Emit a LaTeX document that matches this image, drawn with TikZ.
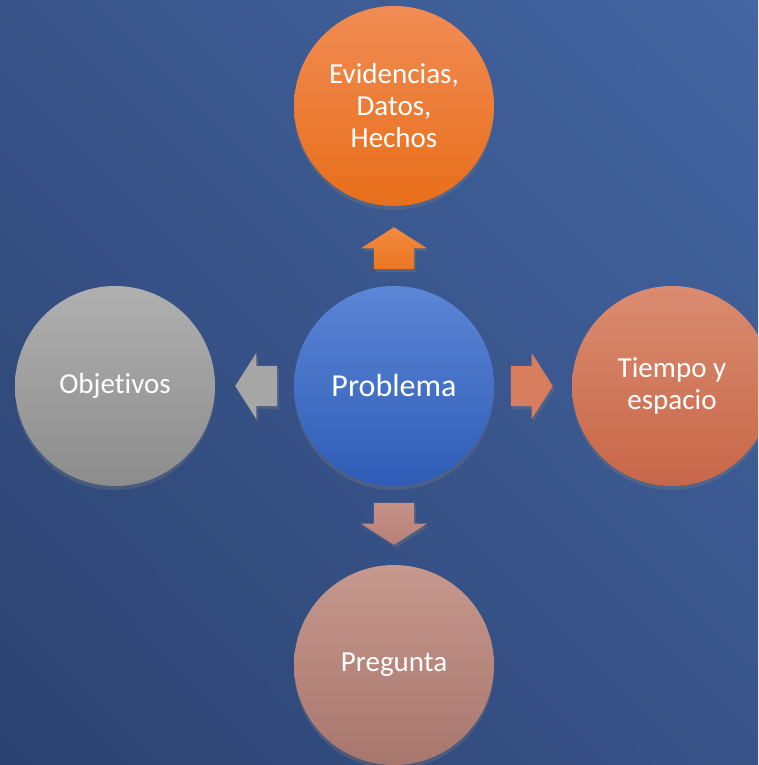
\documentclass[tikz,border=0pt]{standalone}
\usepackage{fontspec}
\setmainfont{Carlito}[Ligatures=NoCommon]
\usepackage{xcolor}
\usepackage{tikz}
\usetikzlibrary{shapes.arrows,shadows,shadings}

\definecolor{bgdark}{HTML}{2C4270}
\definecolor{bglight}{HTML}{4466A3}

\begin{document}
\begin{tikzpicture}[x=1pt, y=-1pt,
        bubble/.style={circle, minimum size=200pt, inner sep=0pt, align=center,
            text=white, font=\fontsize{29}{32}\selectfont,
            drop shadow={opacity=0.3, shadow xshift=0pt, shadow yshift=-4pt}},
        blockarrow/.style={single arrow, minimum height=42pt, inner sep=0pt,
            single arrow head extend=13pt,
            single arrow tip angle=115, anchor=tip,
            drop shadow={opacity=0.3, shadow xshift=2pt, shadow yshift=-3pt}},
        flat/.style={blockarrow, inner ysep=20pt},
        upright/.style={blockarrow, inner xsep=20pt}]
        \useasboundingbox (0, 0) rectangle (758, 765);
        \clip (0, 0) rectangle (758, 765);
        \shade[lower left=bgdark, upper right=bglight, lower right=bgdark!50!bglight,
            upper left=bgdark!50!bglight] (0, 765) rectangle (758, 0);

        \node[bubble, top color={rgb,255:red,92;green,134;blue,214}, bottom color={rgb,255:red,46;green,92;blue,182},
            font=\fontsize{32}{38}\selectfont] (problema) at (394, 386) {Problema};
        \node[bubble, top color={rgb,255:red,241;green,140;blue,84}, bottom color={rgb,255:red,232;green,110;blue,26}] (evidencias) at (394, 106) {Evidencias,\\Datos,\\Hechos};
        \node[bubble, top color={rgb,255:red,176;green,176;blue,176}, bottom color={rgb,255:red,140;green,140;blue,140}] (objetivos) at (115, 386) {Objetivos};
        \node[bubble, top color={rgb,255:red,218;green,140;blue,112}, bottom color={rgb,255:red,200;green,102;blue,72}] (tiempo) at (672, 386) {Tiempo y\\espacio};
        \node[bubble, top color={rgb,255:red,198;green,152;blue,142}, bottom color={rgb,255:red,168;green,118;blue,108}] (pregunta) at (394, 665) {Pregunta};

        \node[upright, shape border rotate=90, top color={rgb,255:red,242;green,138;blue,62}, bottom color={rgb,255:red,234;green,118;blue,34}] (arriba) at (394, 227) {};
        \node[flat, shape border rotate=180, fill={rgb,255:red,166;green,166;blue,166}] (izquierda) at (235, 386) {};
        \node[flat, fill={rgb,255:red,216;green,126;blue,94}] (derecha) at (553, 386) {};
        \node[upright, shape border rotate=270, top color={rgb,255:red,198;green,146;blue,136}, bottom color={rgb,255:red,184;green,128;blue,118}] (abajo) at (394, 545) {};
    \end{tikzpicture}
\end{document}
